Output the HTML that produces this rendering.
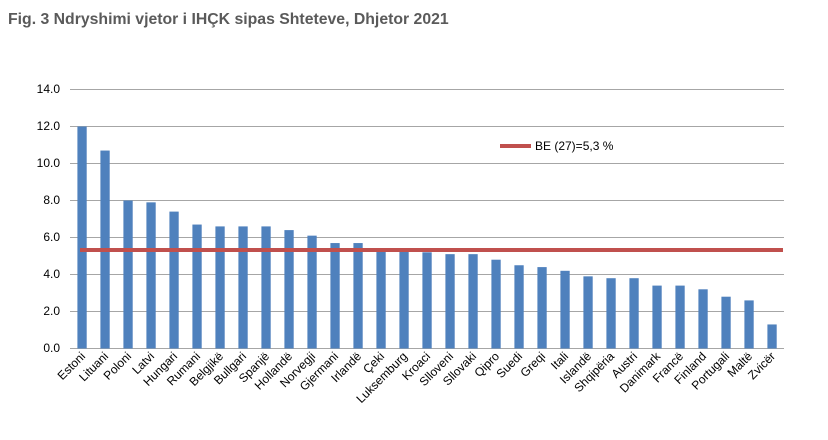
<!DOCTYPE html>
<html><head><meta charset="utf-8"><style>
body{margin:0;background:#fff;width:828px;height:435px;overflow:hidden}
</style></head><body>
<svg width="828" height="435" xmlns="http://www.w3.org/2000/svg" font-family="Liberation Sans, sans-serif">
<text x="8" y="24" font-size="15.8" font-weight="bold" fill="#5a5a5a">Fig. 3 Ndryshimi vjetor i IHÇK sipas Shteteve, Dhjetor 2021</text>
<g stroke="#a6a6a6" stroke-width="1">
<line x1="70" x2="784" y1="89.5" y2="89.5"/>
<line x1="70" x2="784" y1="126.5" y2="126.5"/>
<line x1="70" x2="784" y1="163.5" y2="163.5"/>
<line x1="70" x2="784" y1="200.5" y2="200.5"/>
<line x1="70" x2="784" y1="237.5" y2="237.5"/>
<line x1="70" x2="784" y1="274.5" y2="274.5"/>
<line x1="70" x2="784" y1="311.5" y2="311.5"/>
<line x1="70" x2="784" y1="348.5" y2="348.5"/>
</g>
<g font-size="12" fill="#000" text-anchor="end">
<text x="60" y="93">14.0</text><text x="60" y="130">12.0</text><text x="60" y="167">10.0</text>
<text x="60" y="204">8.0</text><text x="60" y="241">6.0</text><text x="60" y="278">4.0</text>
<text x="60" y="315">2.0</text><text x="60" y="352">0.0</text>
</g>
<g id="bars" fill="#4f81bd"></g>
<line x1="80" x2="783" y1="250" y2="250" stroke="#c0504d" stroke-width="4"/>
<line x1="500" x2="531" y1="146" y2="146" stroke="#c0504d" stroke-width="4"/>
<text x="535" y="150" font-size="12">BE (27)=5,3 %</text>
<g id="labels" font-size="12" text-anchor="end"></g>
<script>
var n=["Estoni","Lituani","Poloni","Latvi","Hungari","Rumani","Belgjikë","Bullgari","Spanjë","Hollandë","Norvegji","Gjermani","Irlandë","Çeki","Luksemburg","Kroaci","Slloveni","Sllovaki","Qipro","Suedi","Greqi","Itali","Islandë","Shqipëria","Austri","Danimark","Francë","Finland","Portugali","Maltë","Zvicër"];
var v=[12,10.7,8,7.9,7.4,6.7,6.6,6.6,6.6,6.4,6.1,5.7,5.7,5.4,5.4,5.2,5.1,5.1,4.8,4.5,4.4,4.2,3.9,3.8,3.8,3.4,3.4,3.2,2.8,2.6,1.3];
var b=document.getElementById("bars"),l=document.getElementById("labels"),ns="http://www.w3.org/2000/svg";
for(var i=0;i<31;i++){var c=82+i*23,h=v[i]*18.5;
var r=document.createElementNS(ns,"rect");r.setAttribute("x",c-4.6);r.setAttribute("width",9.3);r.setAttribute("y",348.5-h);r.setAttribute("height",h);b.appendChild(r);
var t=document.createElementNS(ns,"text");t.setAttribute("transform","translate("+(c+4)+",357) rotate(-45)");t.textContent=n[i];l.appendChild(t);}
</script>
</svg>
</body></html>
